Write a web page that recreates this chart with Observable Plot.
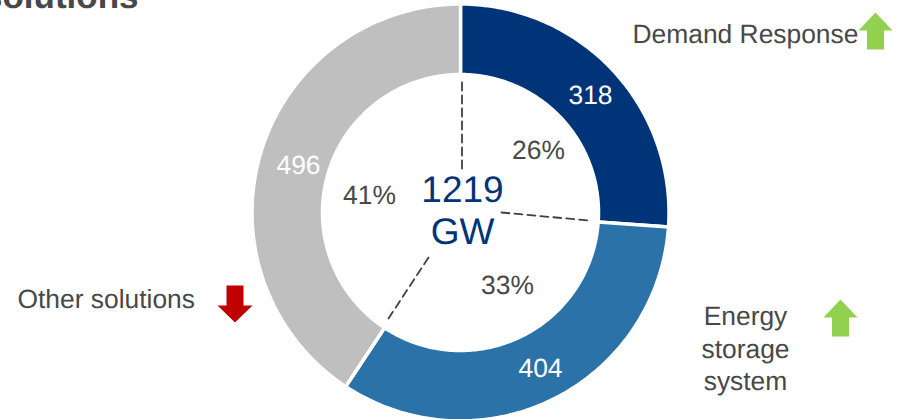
<!DOCTYPE html>
<html>
<head>
<meta charset="utf-8">
<script src="https://cdn.jsdelivr.net/npm/d3@7"></script>
<script src="https://cdn.jsdelivr.net/npm/@observablehq/plot@0.6"></script>
<style>html,body{margin:0;padding:0;background:#fff}svg{display:block}</style>
</head>
<body>
<div id="chart"></div>
<script>
const categories = ["Demand Response", "Energy storage system", "Other solutions"];
const capacityGW = [318, 404, 496];
const shares = ["26%", "33%", "41%"];
const totalLabel = ["1219", "GW"];
const titleFragment = "solutions";
const sliceColors = ["#003478", "#2a72a8", "#bfbfbf"];
const textColor = "#484848";
const navyText = "#003478";

const R_OUT = 208.5, R_IN = 138;
const total = d3.sum(capacityGW);
let acc = 0;
const slices = categories.map((name, i) => {
  const a0 = acc / total * 2 * Math.PI;
  acc += capacityGW[i];
  return {name, a0, a1: acc / total * 2 * Math.PI, value: capacityGW[i], share: shares[i]};
});
const polar = (a, r) => ({x: r * Math.sin(a), y: -r * Math.cos(a)});
const ring = slices.flatMap(s => {
  const n = Math.ceil((s.a1 - s.a0) * 60);
  const at = d3.range(n + 1).map(k => s.a0 + (s.a1 - s.a0) * k / n);
  return [...at.map(a => polar(a, R_OUT)), ...at.reverse().map(a => polar(a, R_IN))]
    .map(p => ({...p, name: s.name}));
});

const valuePos = [{x: 130, y: -117}, {x: 80, y: 156}, {x: -162, y: -47}];
const sharePos = [{x: 78, y: -62}, {x: 47, y: 73}, {x: -91, y: -17}];
const valueLabels = slices.map((s, i) => ({...valuePos[i], text: String(s.value)}));
const shareLabels = slices.map((s, i) => ({...sharePos[i], text: s.share}));
const centerLabels = [{x: 2, y: -22, text: totalLabel[0]}, {x: 2, y: 20, text: totalLabel[1]}];
const dashes = [
  {k: 0, x: 1.5, y: -130}, {k: 0, x: 1.5, y: -41},
  {k: 1, x: 41, y: 0}, {k: 1, x: 128, y: 8},
  {k: 2, x: -32, y: 45}, {k: 2, x: -72, y: 106}
];
const legendLabels = [
  {x: 172, y: -180, text: categories[0], anchor: "start"},
  {x: -443, y: 85.5, text: categories[2], anchor: "start"},
  {x: 285, y: 135, text: "Energy\nstorage\nsystem", anchor: "middle"}
];
// dir -1 points up, +1 points down
const arrow = (dir, w, sw, head, h) => ({draw(c) {
  const tip = dir * h / 2, back = -tip, neck = tip - dir * head;
  c.moveTo(0, tip);
  c.lineTo(w / 2, neck);
  c.lineTo(sw / 2, neck);
  c.lineTo(sw / 2, back);
  c.lineTo(-sw / 2, back);
  c.lineTo(-sw / 2, neck);
  c.lineTo(-w / 2, neck);
  c.closePath();
}});
const upArrows = [{x: 415, y: -181.5}, {x: 380, y: 105.5}];
const downArrows = [{x: -225.5, y: 91.5}];

const font = '"Liberation Sans", Arial, sans-serif';
const plot = Plot.plot({
  width: 898, height: 419,
  marginTop: 0, marginRight: 0, marginBottom: 0, marginLeft: 0,
  style: {background: "#fff", fontFamily: font, overflow: "hidden", textRendering: "geometricPrecision"},
  x: {domain: [-460, 438], range: [0, 898], axis: null},
  y: {domain: [-212, 207], range: [0, 419], axis: null},
  color: {domain: categories, range: sliceColors},
  marks: [
    Plot.line(ring, {x: "x", y: "y", z: "name", fill: "name", stroke: "#fff", strokeWidth: 3.5, curve: "linear-closed"}),
    Plot.line(dashes, {x: "x", y: "y", z: "k", stroke: "#404040", strokeWidth: 1.8, strokeDasharray: "8,5"}),
    Plot.text(valueLabels, {x: "x", y: "y", text: "text", fill: "#fff", fontSize: 26.4, lineAnchor: "middle"}),
    Plot.text(shareLabels, {x: "x", y: "y", text: "text", fill: textColor, fontSize: 26.4, lineAnchor: "middle"}),
    Plot.text(centerLabels, {x: "x", y: "y", text: "text", fill: navyText, fontSize: 37, lineAnchor: "middle"}),
    Plot.text(legendLabels, {x: "x", y: "y", text: "text", fill: textColor, fontSize: 26.4, lineHeight: 1.23, lineAnchor: "middle", textAnchor: "start", filter: d => d.anchor === "start"}),
    Plot.text(legendLabels, {x: "x", y: "y", text: "text", fill: textColor, fontSize: 26.4, lineHeight: 1.23, lineAnchor: "middle", textAnchor: "middle", filter: d => d.anchor === "middle"}),
    Plot.text([titleFragment], {x: () => -322, y: () => -205, text: d => d, fill: textColor, fontSize: 35, fontWeight: "bold", textAnchor: "end", lineAnchor: "bottom"}),
    Plot.dot(upArrows, {x: "x", y: "y", r: 10, fill: "#92d050", stroke: "none", symbol: arrow(-1, 34, 17, 18, 37)}),
    Plot.dot(downArrows, {x: "x", y: "y", r: 10, fill: "#c00000", stroke: "none", symbol: arrow(1, 35, 17, 17, 37)})
  ]
});
document.getElementById("chart").appendChild(plot);
</script>
</body>
</html>
